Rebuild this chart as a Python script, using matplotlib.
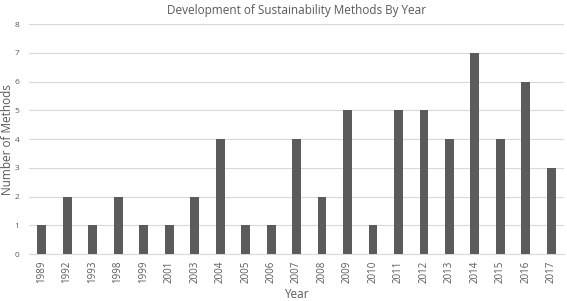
import matplotlib.pyplot as plt

years = ['1989', '1992', '1993', '1998', '1999', '2001', '2003', '2004', '2005', '2006',
         '2007', '2008', '2009', '2010', '2011', '2012', '2013', '2014', '2015', '2016', '2017']
counts = [1, 2, 1, 2, 1, 1, 2, 4, 1, 1, 4, 2, 5, 1, 5, 5, 4, 7, 4, 6, 3]

plt.rcParams['font.family'] = ['Open Sans', 'DejaVu Sans']

fig = plt.figure(figsize=(5.67, 3.01), dpi=100)
ax = fig.add_axes([0.051, 0.156, 0.944, 0.764])

x = list(range(len(years)))
ax.bar(x, counts, width=0.35, color='#5b5b5b', zorder=3)
ax.set_xlim(-0.5, len(years) - 0.5)
ax.set_ylim(0, 8)
ax.set_yticks(range(0, 9))
ax.set_xticks(x)
ax.set_xticklabels(years, rotation=90, fontsize=7, color='#595959')
ax.tick_params(axis='y', labelsize=6, colors='#595959', length=0, pad=7)
ax.tick_params(axis='x', length=0, pad=5)
ax.grid(axis='y', color='#d9d9d9', linewidth=0.8, zorder=0)
for s in ['top', 'right', 'left']:
    ax.spines[s].set_visible(False)
ax.spines['bottom'].set_color('#d9d9d9')

ax.set_title('Development of Sustainability Methods By Year', fontsize=8.5, color='#595959', pad=7)
ax.set_xlabel('Year', fontsize=8.5, color='#595959', labelpad=3)
# y label placed by hand so it stays inside the figure
fig.text(8 / 567, 0.535, 'Number of Methods', rotation=90, ha='center', va='center',
         fontsize=8.5, color='#595959')

fig.savefig('out.png', dpi=100)
